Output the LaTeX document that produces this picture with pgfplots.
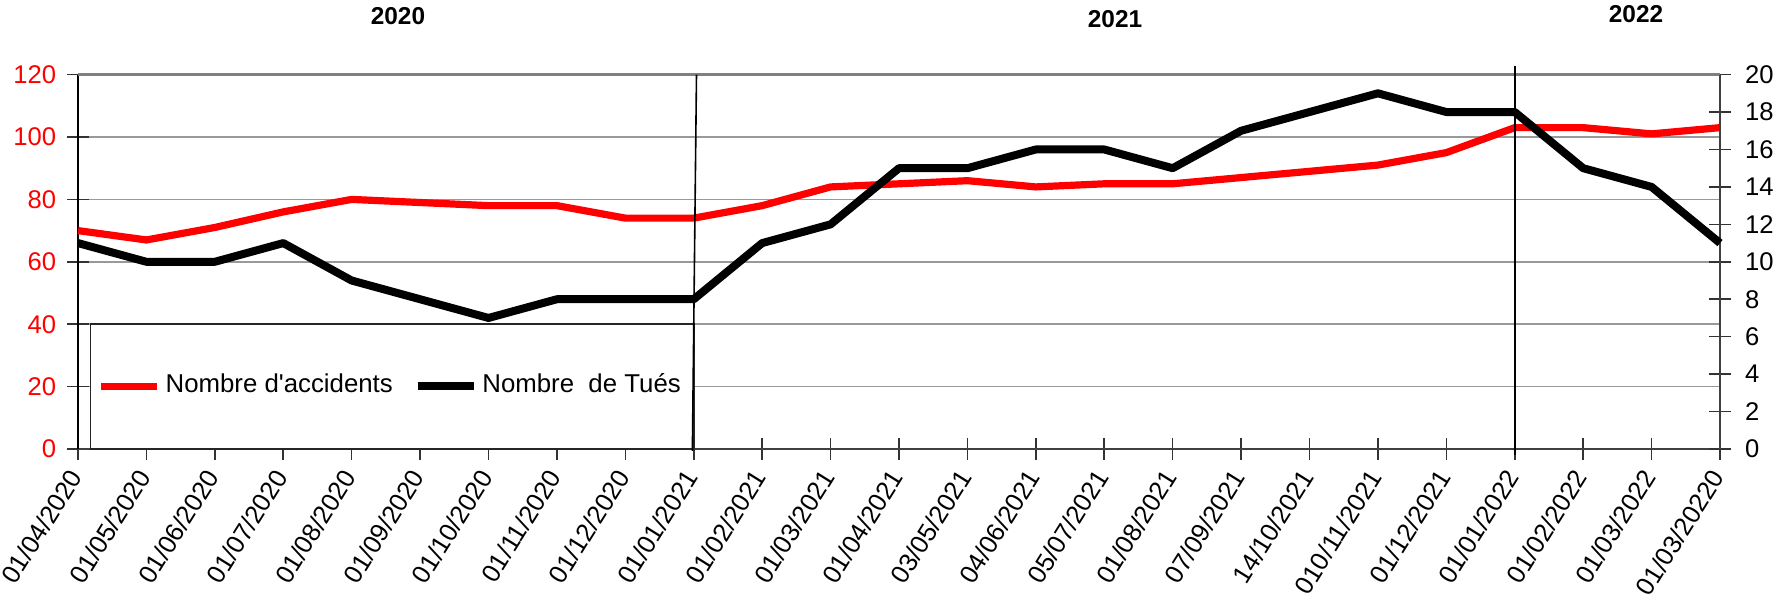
\documentclass[border=0pt]{standalone}
\usepackage{fontspec}
\setmainfont{Liberation Sans}
\usepackage{pgfplots}
\pgfplotsset{compat=1.18}
\begin{document}
\begin{tikzpicture}
\path[use as bounding box] (-19.5pt,-37.75pt) rectangle (423.75pt,112.25pt);
\begin{axis}[
  at={(0pt,0pt)}, anchor=south west,
  scale only axis, width=410.5pt, height=93.6pt,
  xmin=0, xmax=24, ymin=0, ymax=120,
  axis x line*=bottom, axis y line*=left,
  x axis line style={-, black!75, line width=0.6pt},
  y axis line style={-, black, line width=0.6pt},
  xtick={0,...,24},
  xticklabels={01/04/2020,01/05/2020,01/06/2020,01/07/2020,01/08/2020,01/09/2020,01/10/2020,01/11/2020,01/12/2020,01/01/2021,01/02/2021,01/03/2021,01/04/2021,03/05/2021,04/06/2021,05/07/2021,01/08/2021,07/09/2021,14/10/2021,010/11/2021,01/12/2021,01/01/2022,01/02/2022,01/03/2022,01/03/20220},
  ytick={0,20,...,120},
  tick align=center, major tick length=5.5pt,
  tick style={black!80, line width=0.4pt},
  ymajorgrids, major grid style={black!40, line width=0.4pt},
  /pgf/number format/assume math mode=true,
  yticklabel style={text=red, font=\fontsize{6.4}{7.5}\selectfont, xshift=0.8pt},
  xticklabel style={rotate=58, anchor=east, font=\fontsize{6.4}{7.5}\selectfont, inner sep=0.8pt, xshift=-1.9pt, yshift=-1.1pt},
  clip=false,
]
\draw[black!85, fill=white, line width=0.4pt] (0.18,0) rectangle (9,40);
\addplot[red, line width=1.8pt, line join=round] coordinates {
(0,70) (1,67) (2,71) (3,76) (4,80) (5,79) (6,78) (7,78) (8,74) (9,74)
(10,78) (11,84) (12,85) (13,86) (14,84) (15,85) (16,85) (17,87) (18,89) (19,91)
(20,95) (21,103) (22,103) (23,101) (24,103)};
\end{axis}
\begin{axis}[
  at={(0pt,0pt)}, anchor=south west,
  scale only axis, width=410.5pt, height=93.6pt,
  xmin=0, xmax=24, ymin=0, ymax=20,
  axis x line*=top, axis y line*=right,
  x axis line style={-, black!50, line width=0.6pt},
  y axis line style={-, black!75, line width=0.6pt},
  xtick=\empty,
  ytick={0,2,...,20},
  tick align=center, major tick length=5.5pt,
  tick style={black!80, line width=0.4pt},
  /pgf/number format/assume math mode=true,
  yticklabel style={font=\fontsize{6.4}{7.5}\selectfont},
  clip=false,
  legend columns=2,
  legend style={at={(0.191,0.168)}, anchor=center, draw=none, fill=none,
    font=\fontsize{6.45}{7.5}\selectfont,
    nodes={inner sep=1.2pt},
    /tikz/every even column/.append style={column sep=4pt}},
  legend image code/.code={\draw[#1] (0pt,0pt) -- (14pt,0pt);},
]
\draw[black, line width=0.4pt] (9.04,20) -- (8.98,-0.1);
\draw[black, line width=0.6pt] (21,20.48) -- (21,-0.32);
\addlegendimage{red, line width=1.8pt}
\addlegendentry{Nombre d\textquotesingle accidents}
\addplot[black, line width=2pt, line join=round] coordinates {
(0,11) (1,10) (2,10) (3,11) (4,9) (5,8) (6,7) (7,8) (8,8) (9,8)
(10,11) (11,12) (12,15) (13,15) (14,16) (15,16) (16,15) (17,17) (18,18) (19,19)
(20,18) (21,18) (22,15) (23,14) (24,11)};
\addlegendentry{Nombre\ \ de Tués}
\end{axis}
\node[font=\bfseries\fontsize{6.1}{7}\selectfont] at (80pt,108.25pt) {2020};
\node[font=\bfseries\fontsize{6.1}{7}\selectfont] at (259.25pt,107.5pt) {2021};
\node[font=\bfseries\fontsize{6.1}{7}\selectfont] at (389.5pt,108.75pt) {2022};
\end{tikzpicture}
\end{document}
